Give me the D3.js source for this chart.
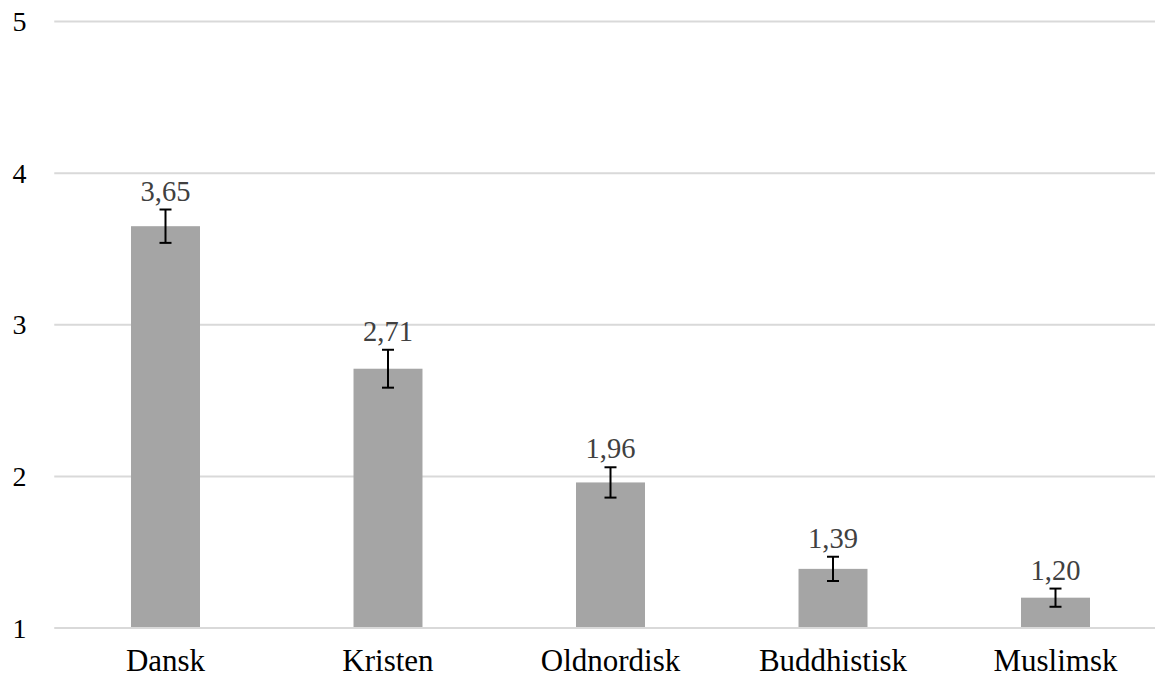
<!DOCTYPE html>
<html><head><meta charset="utf-8">
<script src="https://cdn.jsdelivr.net/npm/d3@7"></script>
<style>html,body{margin:0;padding:0;background:#fff;}svg{display:block;}text{font-family:"Liberation Serif","Times New Roman","DejaVu Serif",serif;}</style>
</head><body>
<svg id="chart" width="1155" height="678"></svg>
<script>
const categories = ["Dansk", "Kristen", "Oldnordisk", "Buddhistisk", "Muslimsk"];
const means = [3.65, 2.71, 1.96, 1.39, 1.20];
const errors = [0.11, 0.125, 0.10, 0.08, 0.06];
const yTicks = [1, 2, 3, 4, 5];

const svg = d3.select("#chart");
const W = 1155, H = 678;
const x = d3.scaleBand().domain(categories).range([54.25, 1166.75]).padding(0);
const y = d3.scaleLinear().domain([1, 5]).range([628, 21.5]);
const barW = x.bandwidth() * 0.31;

// gridlines
svg.append("g").selectAll("line").data(yTicks).join("line")
  .attr("x1", 54.25).attr("x2", W)
  .attr("y1", d => y(d)).attr("y2", d => y(d))
  .attr("stroke", "#d9d9d9").attr("stroke-width", 2);

// y tick labels
svg.append("g").selectAll("text").data(yTicks).join("text")
  .attr("x", 19.5).attr("y", d => y(d) + 9.5)
  .attr("text-anchor", "middle")
  .style("font-size", "28px").attr("fill", "#000")
  .text(d => d);

const data = categories.map((c, i) => ({c, v: means[i], e: errors[i]}));

// bars
svg.append("g").selectAll("rect").data(data).join("rect")
  .attr("x", d => x(d.c) + x.bandwidth() / 2 - barW / 2)
  .attr("width", barW)
  .attr("y", d => y(d.v))
  .attr("height", d => y(1) - y(d.v) - 1)
  .attr("fill", "#a5a5a5");

// error bars
const eg = svg.append("g").attr("stroke", "#000").attr("stroke-width", 2);
data.forEach(d => {
  const cx = x(d.c) + x.bandwidth() / 2;
  eg.append("line").attr("x1", cx).attr("x2", cx).attr("y1", y(d.v + d.e)).attr("y2", y(d.v - d.e));
  eg.append("line").attr("x1", cx - 6).attr("x2", cx + 6).attr("y1", y(d.v + d.e)).attr("y2", y(d.v + d.e));
  eg.append("line").attr("x1", cx - 6).attr("x2", cx + 6).attr("y1", y(d.v - d.e)).attr("y2", y(d.v - d.e));
});

// value labels
svg.append("g").selectAll("text").data(data).join("text")
  .attr("x", d => x(d.c) + x.bandwidth() / 2)
  .attr("y", d => y(d.v + d.e) - 9)
  .attr("text-anchor", "middle")
  .style("font-size", "28.5px").attr("fill", "#404040")
  .text(d => d.v.toFixed(2).replace(".", ","));

// category labels
svg.append("g").selectAll("text").data(categories).join("text")
  .attr("x", d => x(d) + x.bandwidth() / 2)
  .attr("y", 670.5)
  .attr("text-anchor", "middle")
  .style("font-size", "31px").attr("fill", "#000")
  .text(d => d);
</script>
</body></html>
